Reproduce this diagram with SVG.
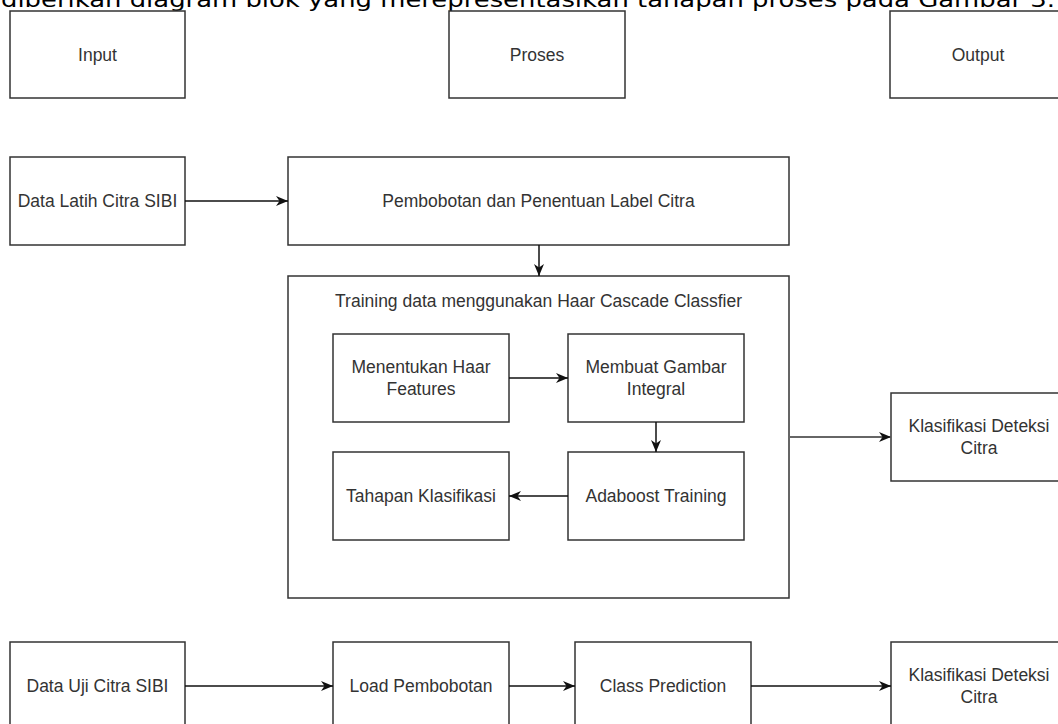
<svg xmlns="http://www.w3.org/2000/svg" width="1058" height="724" viewBox="0 0 1058 724">
  <style>
    .box { fill: #ffffff; stroke: #333333; stroke-width: 1.5; }
    .lbl { font-family: "Liberation Sans", Arial, sans-serif; font-size: 17.5px; fill: #333333; text-anchor: middle; dominant-baseline: central; }
    .cap { font-family: "DejaVu Sans", Verdana, sans-serif; font-size: 22px; fill: #000000; }
    .edge { fill: none; stroke: #111111; stroke-width: 1.5; }
    .edge-gray { fill: none; stroke: #666666; stroke-width: 2; }
  </style>
  <defs>
    <marker id="arr" markerUnits="userSpaceOnUse" markerWidth="13" markerHeight="13" viewBox="0 0 13 13" refX="12" refY="6.5" orient="auto">
      <path d="M0,1.5 L12,6.5 L0,11.5 L3.5,6.5 z" fill="#111111"/>
    </marker>
  </defs>
  <rect width="1058" height="724" fill="#ffffff"/>

  <text class="cap" x="1" y="7" textLength="1054" lengthAdjust="spacingAndGlyphs">diberikan diagram blok yang merepresentasikan tahapan proses pada Gambar 3.</text>

  <g id="input">
    <rect class="box" x="10" y="11" width="175" height="87"/>
    <text class="lbl" x="97.5" y="54.5">Input</text>
  </g>
  <g id="proses">
    <rect class="box" x="449" y="11" width="176" height="87"/>
    <text class="lbl" x="537" y="54.5">Proses</text>
  </g>
  <g id="output">
    <rect class="box" x="890" y="11" width="176" height="87"/>
    <text class="lbl" x="978" y="54.5">Output</text>
  </g>

  <g id="data-latih">
    <rect class="box" x="10" y="157" width="175" height="88"/>
    <text class="lbl" x="97.5" y="201">Data Latih Citra SIBI</text>
  </g>
  <g id="pembobotan">
    <rect class="box" x="288" y="157" width="501" height="88"/>
    <text class="lbl" x="538.5" y="201">Pembobotan dan Penentuan Label Citra</text>
  </g>

  <g id="training">
    <rect class="box" x="288" y="276" width="501" height="322"/>
    <text class="lbl" x="538.5" y="301">Training data menggunakan Haar Cascade Classfier</text>
  </g>
  <g id="haar-features">
    <rect class="box" x="333" y="334" width="176" height="88"/>
    <text class="lbl" x="421" y="367">Menentukan Haar</text>
    <text class="lbl" x="421" y="388.5">Features</text>
  </g>
  <g id="gambar-integral">
    <rect class="box" x="568" y="334" width="176" height="88"/>
    <text class="lbl" x="656" y="367">Membuat Gambar</text>
    <text class="lbl" x="656" y="388.5">Integral</text>
  </g>
  <g id="tahapan">
    <rect class="box" x="333" y="452" width="176" height="88"/>
    <text class="lbl" x="421" y="496">Tahapan Klasifikasi</text>
  </g>
  <g id="adaboost">
    <rect class="box" x="568" y="452" width="176" height="88"/>
    <text class="lbl" x="656" y="496">Adaboost Training</text>
  </g>

  <g id="klasifikasi-1">
    <rect class="box" x="891" y="393" width="176" height="88"/>
    <text class="lbl" x="979" y="426">Klasifikasi Deteksi</text>
    <text class="lbl" x="979" y="447.5">Citra</text>
  </g>

  <g id="data-uji">
    <rect class="box" x="10" y="642" width="175" height="88"/>
    <text class="lbl" x="97.5" y="686">Data Uji Citra SIBI</text>
  </g>
  <g id="load-pembobotan">
    <rect class="box" x="333" y="642" width="176" height="88"/>
    <text class="lbl" x="421" y="686">Load Pembobotan</text>
  </g>
  <g id="class-prediction">
    <rect class="box" x="575" y="642" width="176" height="88"/>
    <text class="lbl" x="663" y="686">Class Prediction</text>
  </g>
  <g id="klasifikasi-2">
    <rect class="box" x="891" y="642" width="176" height="88"/>
    <text class="lbl" x="979" y="675">Klasifikasi Deteksi</text>
    <text class="lbl" x="979" y="696.5">Citra</text>
  </g>

  <g id="connectors">
    <line class="edge" x1="185" y1="201" x2="288" y2="201" marker-end="url(#arr)"/>
    <line class="edge" x1="539" y1="245" x2="539" y2="276" marker-end="url(#arr)"/>
    <line class="edge" x1="509" y1="378" x2="568" y2="378" marker-end="url(#arr)"/>
    <line class="edge" x1="656" y1="422" x2="656" y2="452" marker-end="url(#arr)"/>
    <line class="edge" x1="568" y1="496" x2="509" y2="496" marker-end="url(#arr)"/>
    <line class="edge-gray" x1="789" y1="437" x2="891" y2="437" marker-end="url(#arr)"/>
    <line class="edge" x1="185" y1="686" x2="333" y2="686" marker-end="url(#arr)"/>
    <line class="edge" x1="509" y1="686" x2="575" y2="686" marker-end="url(#arr)"/>
    <line class="edge" x1="751" y1="686" x2="891" y2="686" marker-end="url(#arr)"/>
  </g>
</svg>
